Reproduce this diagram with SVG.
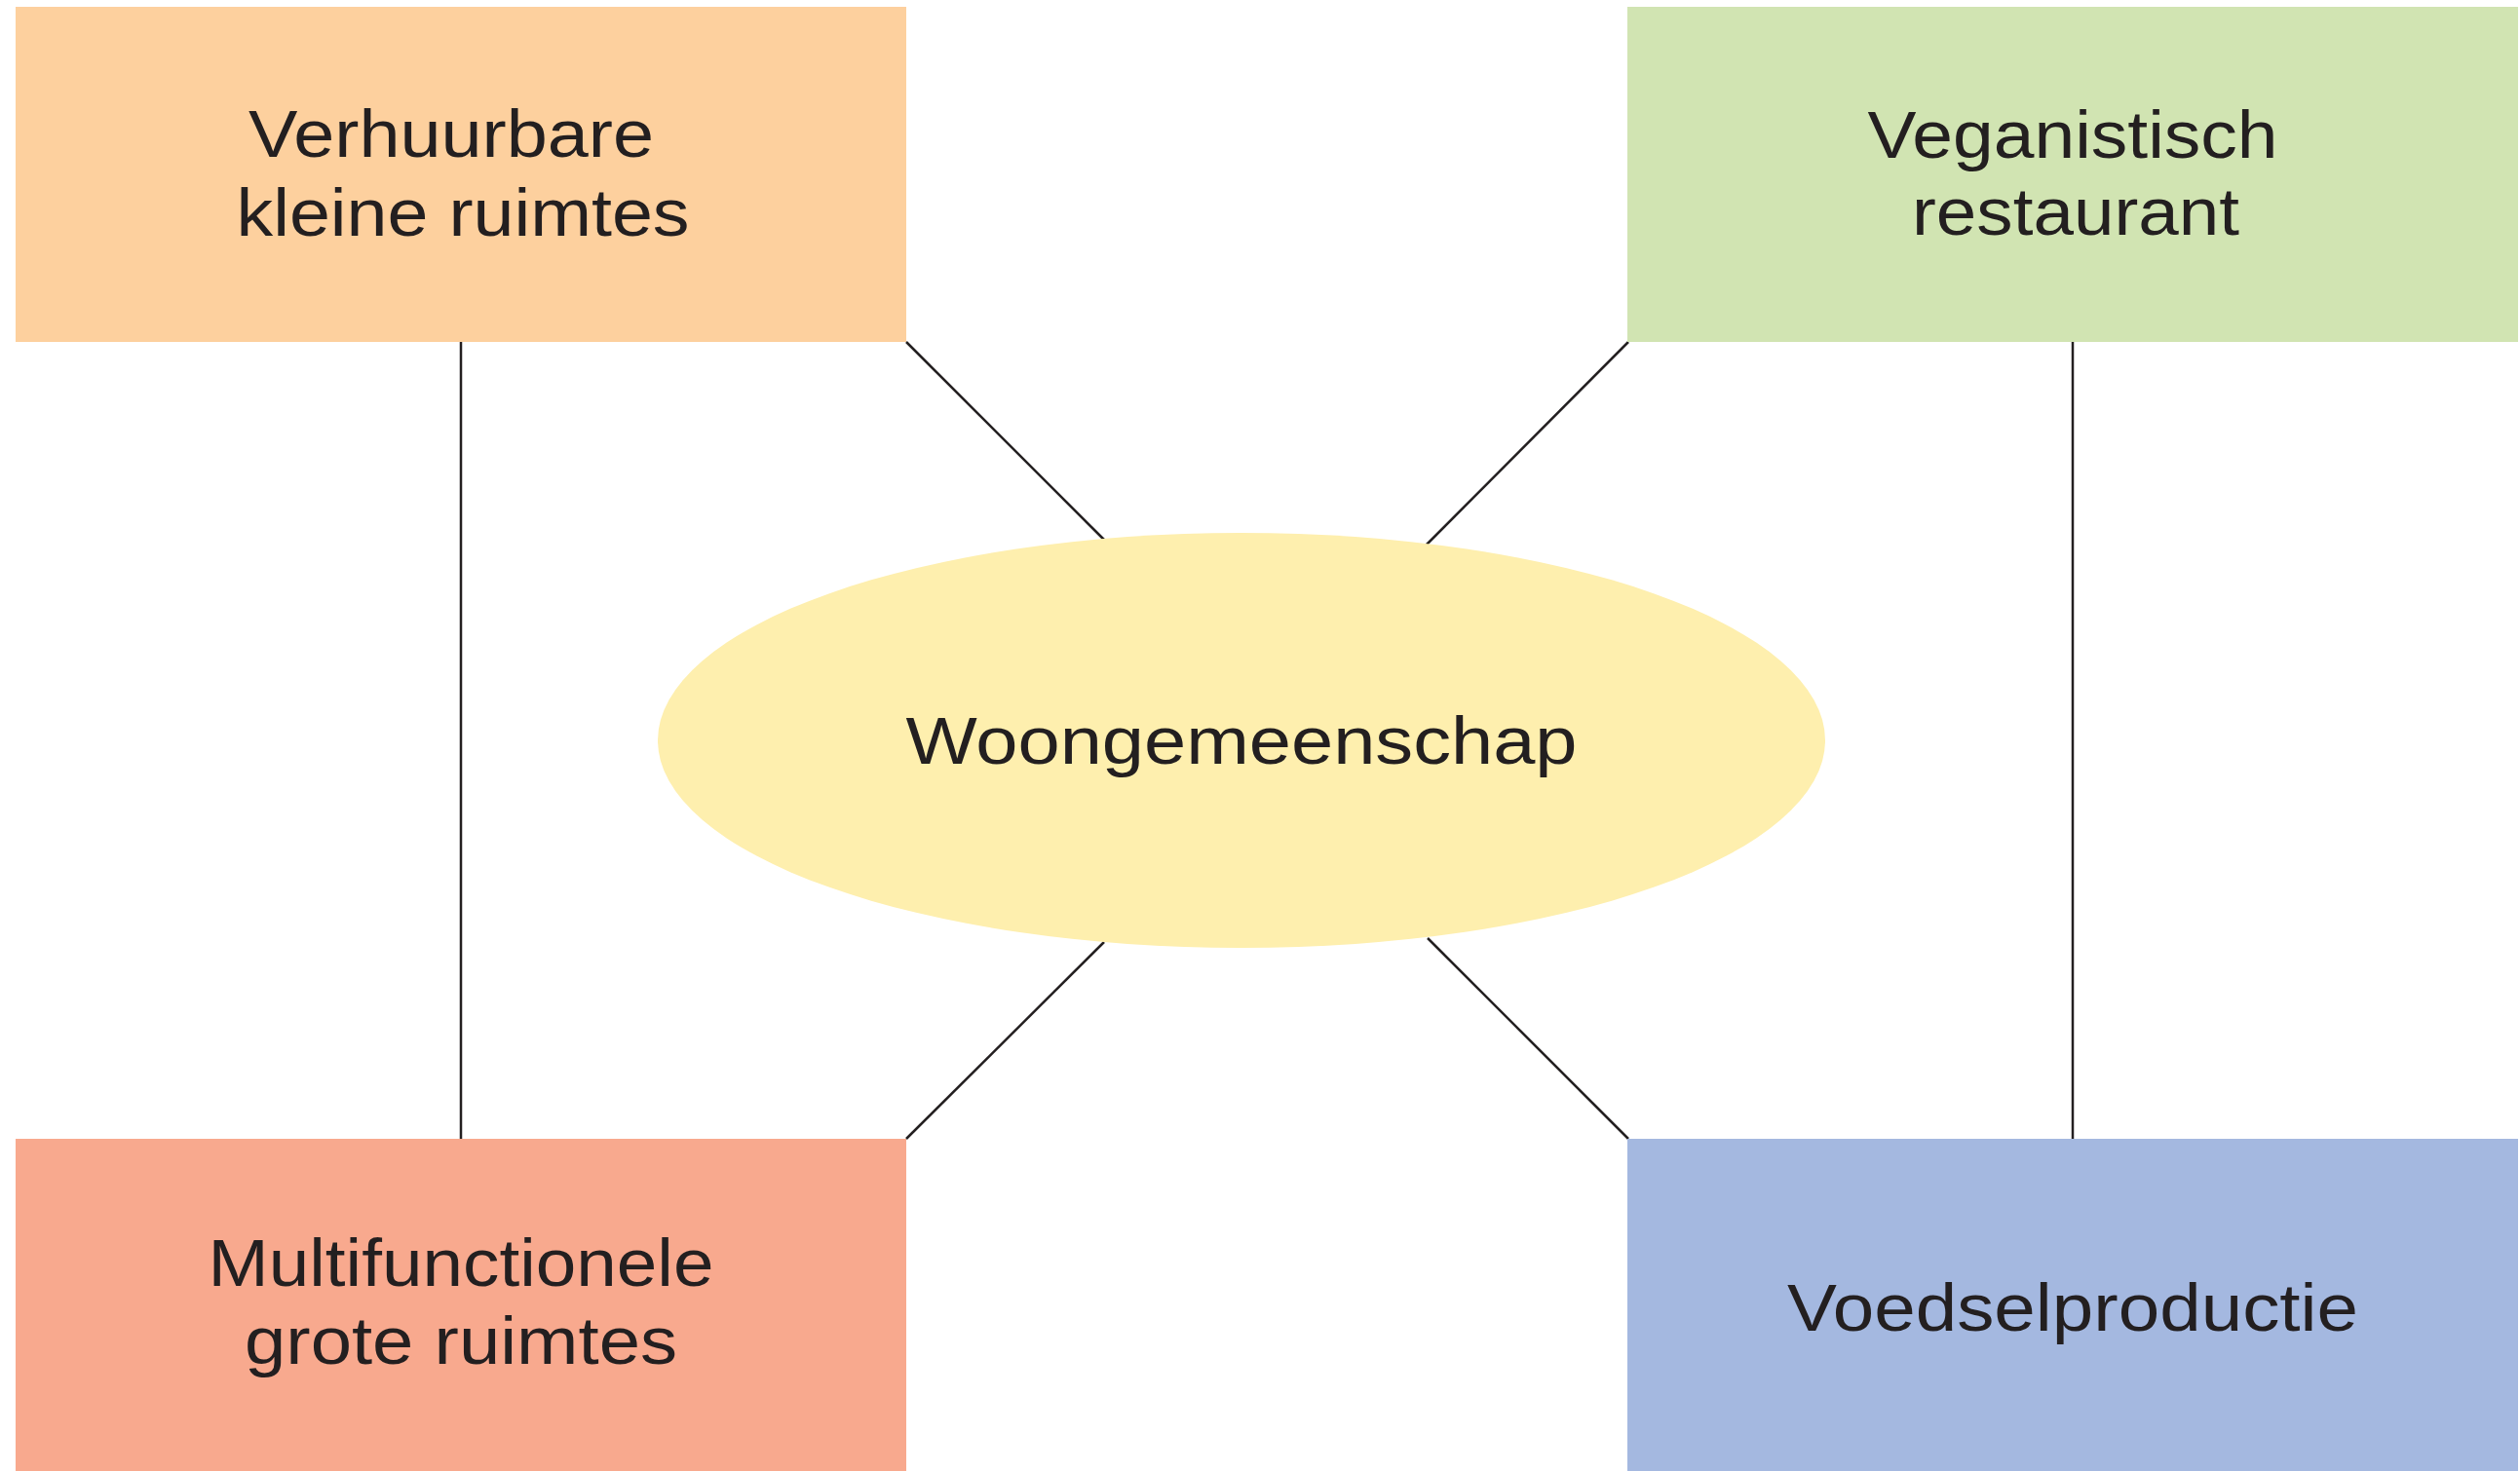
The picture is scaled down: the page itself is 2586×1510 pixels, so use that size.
<svg xmlns="http://www.w3.org/2000/svg" width="2586" height="1510" viewBox="0 0 2586 1510">
<style>
.lbl{font-family:"Liberation Sans",Arial,sans-serif;font-size:69px;fill:#231F20;text-anchor:middle}
.con{stroke:#231F20;stroke-width:2.5;fill:none}
</style>
<rect width="2586" height="1510" fill="#ffffff"/>
<g id="connectors">
<line class="con" x1="473" y1="351" x2="473" y2="1169"/>
<line class="con" x1="2127" y1="351" x2="2127" y2="1169"/>
<line class="con" x1="930" y1="351" x2="1133" y2="554"/>
<line class="con" x1="1671" y1="351" x2="1460" y2="563"/>
<line class="con" x1="1133" y1="967" x2="930" y2="1169"/>
<line class="con" x1="1465" y1="963" x2="1671" y2="1169"/>
</g>
<g id="node-verhuurbare">
<rect x="16" y="7" width="914" height="344" fill="#FDD09E"/>
<text class="lbl" x="463" y="161" textLength="416" lengthAdjust="spacingAndGlyphs">Verhuurbare</text>
<text class="lbl" x="475" y="242" textLength="465" lengthAdjust="spacingAndGlyphs">kleine ruimtes</text>
</g>
<g id="node-veganistisch">
<rect x="1670" y="7" width="914" height="344" fill="#D1E4B2"/>
<text class="lbl" x="2127" y="162" textLength="421" lengthAdjust="spacingAndGlyphs">Veganistisch</text>
<text class="lbl" x="2130" y="241" textLength="336" lengthAdjust="spacingAndGlyphs">restaurant</text>
</g>
<g id="node-multifunctionele">
<rect x="16" y="1169" width="914" height="341" fill="#F8A98E"/>
<text class="lbl" x="473" y="1320" textLength="519" lengthAdjust="spacingAndGlyphs">Multifunctionele</text>
<text class="lbl" x="473" y="1400" textLength="444" lengthAdjust="spacingAndGlyphs">grote ruimtes</text>
</g>
<g id="node-voedselproductie">
<rect x="1670" y="1169" width="914" height="341" fill="#A4B8E0"/>
<text class="lbl" x="2127" y="1366" textLength="586" lengthAdjust="spacingAndGlyphs">Voedselproductie</text>
</g>
<g id="node-woongemeenschap">
<ellipse cx="1274" cy="760" rx="599" ry="213" fill="#FEEFAE"/>
<text class="lbl" x="1274" y="784" textLength="689" lengthAdjust="spacingAndGlyphs">Woongemeenschap</text>
</g>
</svg>
